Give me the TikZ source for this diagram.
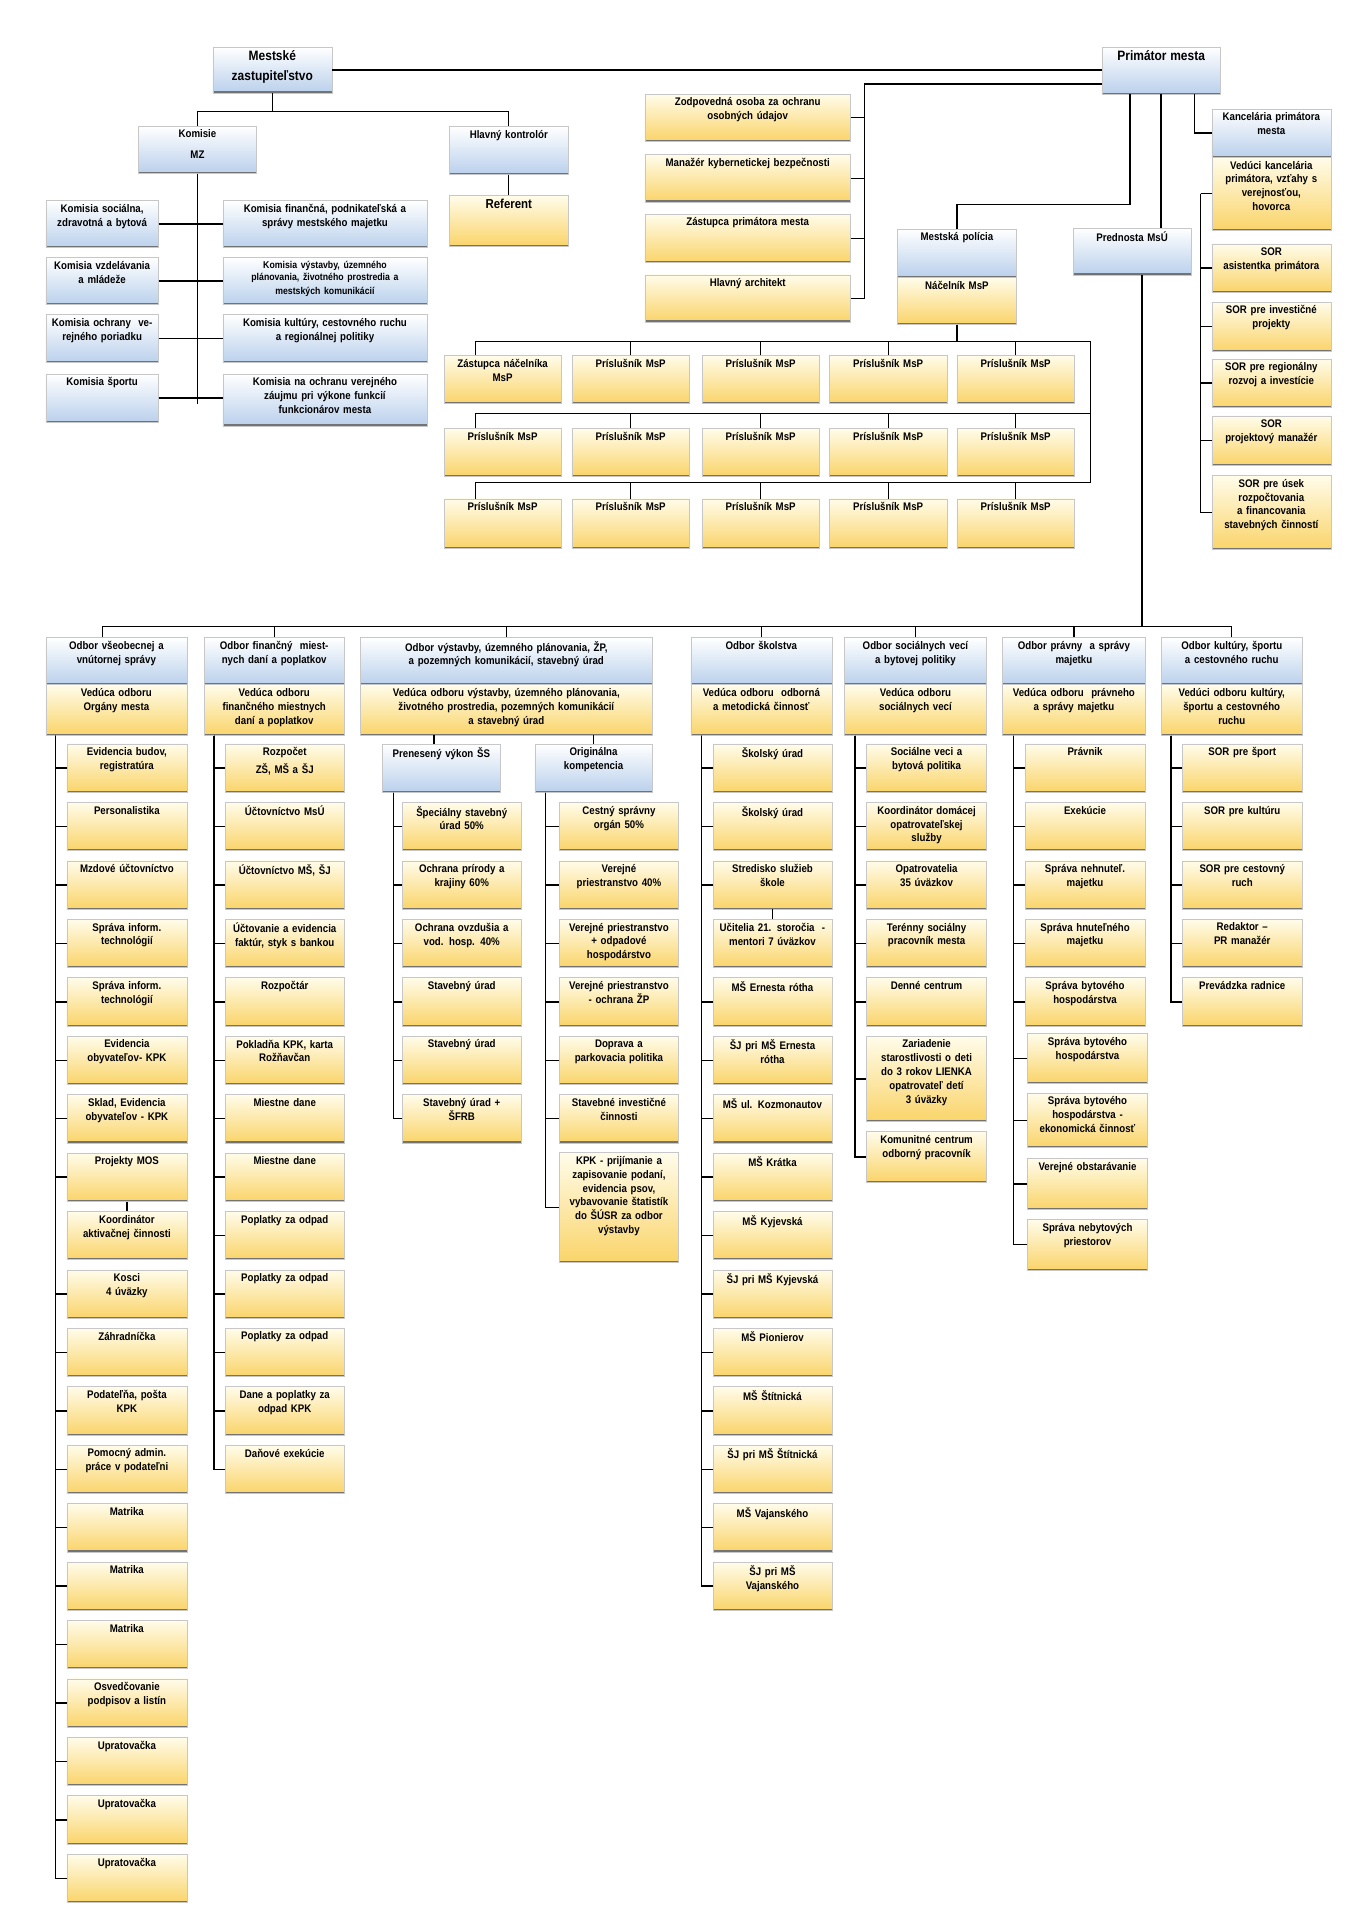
\documentclass[tikz,border=0pt]{standalone}
\usepackage{fontspec}
\setmainfont[FakeStretch=0.88]{Liberation Sans}
\usetikzlibrary{fit}
\definecolor{bluebot}{RGB}{186,208,236}
\definecolor{yeltop}{RGB}{255,252,234}
\definecolor{yelbot}{RGB}{250,212,105}
\tikzset{
 boxbase/.style={inner sep=0pt, draw=black!22, line width=0.4pt,
   path picture={\draw[line width=2.4pt, black!55] (path picture bounding box.south west) -- (path picture bounding box.south east);}},
 bb/.style={boxbase, top color=white, bottom color=bluebot},
 yb/.style={boxbase, top color=yeltop, bottom color=yelbot},
 txt/.style={anchor=north, align=center, inner sep=0pt, font=\fontsize{8.9}{11.2}\selectfont\bfseries},
 con/.style={line width=1.1pt, black}
}
\newcommand\bx[7]{%
 \pgfmathsetmacro\tw{#4-#2-2}%
 \node[#6, fit={(#2,-#3) (#4,-#5)}] (#1) {};
 \node[txt, text width=\tw pt] at ([yshift=-3pt]#1.north) {#7};}
\newcommand\sr[6]{%
 \pgfmathsetmacro\ya{601+47.2*#4}\pgfmathsetmacro\yb{\ya+39}%
 \bx{#1}{#2}{\ya}{#3}{\yb}{#5}{#6}}
\begin{document}
\begin{tikzpicture}[x=1pt,y=1pt]
\useasboundingbox[fill=white] (0,0) rectangle (1100,-1551);
% ---- top
\bx{mz}{172}{38}{268}{75}{bb}{\fontsize{11}{13}\selectfont Mestské\\[5pt]zastupiteľstvo}
\bx{prim}{890}{38}{986}{76}{bb}{\fontsize{11}{13}\selectfont Primátor mesta}
\bx{kom}{112}{102}{207}{140}{bb}{Komisie\\[5pt]MZ}
\bx{hk}{363}{102}{459}{141}{bb}{Hlavný kontrolór}
\bx{ref}{363}{158}{459}{199}{yb}{\fontsize{10.5}{12}\selectfont Referent}
\bx{ks1}{37}{162}{128}{200}{bb}{Komisia sociálna,\\zdravotná a bytová}
\bx{ks2}{37}{208}{128}{246}{bb}{Komisia vzdelávania\\a mládeže}
\bx{ks3}{37}{254}{128}{293}{bb}{Komisia ochrany~ ve-\\rejného poriadku}
\bx{ks4}{37}{302}{128}{341}{bb}{Komisia športu}
\bx{kf1}{180}{162}{345}{200}{bb}{Komisia finančná, podnikateľská a\\správy mestského majetku}
\bx{kf2}{180}{208}{345}{246}{bb}{\fontsize{8}{10}\selectfont Komisia výstavby, územného\\plánovania, životného prostredia a\\mestských komunikácií}
\bx{kf3}{180}{254}{345}{293}{bb}{Komisia kultúry, cestovného ruchu\\a regionálnej politiky}
\bx{kf4}{180}{302}{345}{344}{bb}{Komisia na ochranu verejného\\záujmu pri výkone funkcií\\funkcionárov mesta}
\draw[con] (mz.east) -- (mz.east -| prim.west);
\draw[con] (mz.south) -- ++(0,-15) -| (kom.north);
\draw[con] (mz.south) -- ++(0,-15) -| (hk.north);
\draw[con] (hk.south) -- (ref.north);
\draw[con] (kom.south) -- ++(0,-186);
\foreach \i in {1,...,4} \draw[con] (ks\i.east) -- (ks\i.east -| kf\i.west);
% primator staff
\bx{zo}{521}{76}{687}{114}{yb}{Zodpovedná osoba za ochranu\\osobných údajov}
\bx{ma}{521}{125}{687}{163}{yb}{Manažér kybernetickej bezpečnosti}
\bx{zp}{521}{173}{687}{212}{yb}{Zástupca primátora mesta}
\bx{ha}{521}{222}{687}{260}{yb}{Hlavný architekt}
\draw[con] ([yshift=-30pt]prim.north west) -| ([xshift=11pt]ha.east) -- (ha.east);
\foreach \n in {zo,ma,zp} \draw[con] (\n.east) -- ++(11,0);
\bx{mp}{725}{185}{821}{224}{bb}{Mestská polícia}
\bx{nac}{725}{224}{821}{262}{yb}{Náčelník MsP}
\bx{pr}{867}{184}{962}{222}{bb}{Prednosta MsÚ}
\bx{kan}{979}{88}{1075}{127}{bb}{Kancelária primátora\\mesta}
\bx{ved}{979}{127}{1075}{186}{yb}{Vedúci kancelária\\primátora, vzťahy s\\verejnosťou,\\hovorca}
\bx{so1}{979}{197}{1075}{236}{yb}{SOR\\asistentka primátora}
\bx{so2}{979}{244}{1075}{284}{yb}{SOR pre investičné\\projekty}
\bx{so3}{979}{290}{1075}{329}{yb}{SOR pre regionálny\\rozvoj a investície}
\bx{so4}{979}{336}{1075}{376}{yb}{SOR\\projektový manažér}
\bx{so5}{979}{384}{1075}{444}{yb}{SOR pre úsek\\rozpočtovania\\a financovania\\stavebných činností}
\draw[con] ([xshift=23pt]prim.south west) -- ++(0,-89) -| (mp.north);
\draw[con] ([xshift=48pt]prim.south west) -- ([xshift=48pt]prim.south west |- pr.north);
\draw[con] ([xshift=75pt]prim.south west) |- (kan.west);
\foreach \i in {1,...,5} \draw[con] ([xshift=-9pt]ved.west) |- (so\i.west);
\draw[con] (ved.west) -- ++(-9,0);
% MsP grid
\bx{r1c1}{359}{287}{453}{326}{yb}{Zástupca náčelníka\\MsP}
\foreach \c/\xa/\xb in {2/462/557,3/567/662,4/670/765,5/773/868}
 \bx{r1c\c}{\xa}{287}{\xb}{326}{yb}{Príslušník MsP};
\foreach \r/\ya/\yb in {2/346/385,3/403/443}{
 \bx{r\r c1}{359}{\ya}{453}{\yb}{yb}{Príslušník MsP}
 \bx{r\r c2}{462}{\ya}{557}{\yb}{yb}{Príslušník MsP}
 \bx{r\r c3}{567}{\ya}{662}{\yb}{yb}{Príslušník MsP}
 \bx{r\r c4}{670}{\ya}{765}{\yb}{yb}{Príslušník MsP}
 \bx{r\r c5}{773}{\ya}{868}{\yb}{yb}{Príslušník MsP}
}
\draw[con] (nac.south) -- ++(0,-14);
\draw[con] (384,-276) -- (881,-276) -- (881,-390) -- (384,-390);
\draw[con] (384,-334) -- (881,-334);
\draw[con] ([xshift=-22pt]r1c1.north) -- ++(0,11);
\draw[con] ([xshift=-22pt]r2c1.north) -- ++(0,12);
\draw[con] ([xshift=-22pt]r3c1.north) -- ++(0,13);
\foreach \c in {2,...,5}{
 \draw[con] (r1c\c.north) -- ++(0,11);
 \draw[con] (r2c\c.north) -- ++(0,12);
 \draw[con] (r3c\c.north) -- ++(0,13);}
% departments
\draw[con] ([xshift=8pt]pr.south) -- ++(0,-284);
\draw[con] (83,-506) -- (995,-506);
\bx{d1}{37}{515}{151}{553}{bb}{Odbor všeobecnej a\\vnútornej správy}
\bx{d1y}{37}{553}{151}{594}{yb}{Vedúca odboru\\Orgány mesta}
\bx{d2}{165}{515}{278}{553}{bb}{Odbor finančný~ miest-\\nych daní a poplatkov}
\bx{d2y}{165}{553}{278}{594}{yb}{Vedúca odboru\\finančného miestnych\\daní a poplatkov}
\bx{d3}{291}{515}{527}{553}{bb}{Odbor výstavby, územného plánovania, ŽP,\\a pozemných komunikácií, stavebný úrad}
\bx{d3y}{291}{553}{527}{594}{yb}{Vedúca odboru výstavby, územného plánovania,\\životného prostredia, pozemných komunikácií\\a stavebný úrad}
\bx{d4}{558}{515}{672}{553}{bb}{Odbor školstva}
\bx{d4y}{558}{553}{672}{594}{yb}{Vedúca odboru~ odborná\\a metodická činnosť}
\bx{d5}{682}{515}{797}{553}{bb}{Odbor sociálnych vecí\\a bytovej politiky}
\bx{d5y}{682}{553}{797}{594}{yb}{Vedúca odboru\\sociálnych vecí}
\bx{d6}{810}{515}{925}{553}{bb}{Odbor právny~ a správy\\majetku}
\bx{d6y}{810}{553}{925}{594}{yb}{Vedúca odboru~ právneho\\a správy majetku}
\bx{d7}{938}{515}{1052}{553}{bb}{Odbor kultúry, športu\\a cestovného ruchu}
\bx{d7y}{938}{553}{1052}{594}{yb}{Vedúci odboru kultúry,\\športu a cestovného\\ruchu}
\draw[con] ([xshift=-11pt]d1.north) -- ++(0,9);
\foreach \d in {2,...,7} \draw[con] (d\d.north) -- ++(0,9);
% col1
\sr{a0}{54}{151}{0}{yb}{Evidencia budov,\\registratúra}
\sr{a1}{54}{151}{1}{yb}{Personalistika}
\sr{a2}{54}{151}{2}{yb}{Mzdové účtovníctvo}
\sr{a3}{54}{151}{3}{yb}{Správa inform.\\technológií}
\sr{a4}{54}{151}{4}{yb}{Správa inform.\\technológií}
\sr{a5}{54}{151}{5}{yb}{Evidencia\\obyvateľov- KPK}
\sr{a6}{54}{151}{6}{yb}{Sklad, Evidencia\\obyvateľov - KPK}
\sr{a7}{54}{151}{7}{yb}{Projekty MOS}
\sr{a8}{54}{151}{8}{yb}{Koordinátor\\aktivačnej činnosti}
\sr{a9}{54}{151}{9}{yb}{Kosci\\4 úväzky}
\sr{a10}{54}{151}{10}{yb}{Záhradníčka}
\sr{a11}{54}{151}{11}{yb}{Podateľňa, pošta\\KPK}
\sr{a12}{54}{151}{12}{yb}{Pomocný admin.\\práce v podateľni}
\sr{a13}{54}{151}{13}{yb}{Matrika}
\sr{a14}{54}{151}{14}{yb}{Matrika}
\sr{a15}{54}{151}{15}{yb}{Matrika}
\sr{a16}{54}{151}{16}{yb}{Osvedčovanie\\podpisov a listín}
\sr{a17}{54}{151}{17}{yb}{Upratovačka}
\sr{a18}{54}{151}{18}{yb}{Upratovačka}
\sr{a19}{54}{151}{19}{yb}{Upratovačka}
\foreach \i in {0,...,7,9,10,...,19} \draw[con] ([xshift=8pt]d1y.south west) |- (a\i.west);
\draw[con] (a7.south) -- (a8.north);
% col2
\sr{b0}{182}{278}{0}{yb}{Rozpočet\\[3pt]ZŠ, MŠ a ŠJ}
\sr{b1}{182}{278}{1}{yb}{Účtovníctvo MsÚ}
\sr{b2}{182}{278}{2}{yb}{Účtovníctvo MŠ, ŠJ}
\sr{b3}{182}{278}{3}{yb}{Účtovanie a evidencia\\faktúr, styk s bankou}
\sr{b4}{182}{278}{4}{yb}{Rozpočtár}
\sr{b5}{182}{278}{5}{yb}{Pokladňa KPK, karta\\Rožňavčan}
\sr{b6}{182}{278}{6}{yb}{Miestne dane}
\sr{b7}{182}{278}{7}{yb}{Miestne dane}
\sr{b8}{182}{278}{8}{yb}{Poplatky za odpad}
\sr{b9}{182}{278}{9}{yb}{Poplatky za odpad}
\sr{b10}{182}{278}{10}{yb}{Poplatky za odpad}
\sr{b11}{182}{278}{11}{yb}{Dane a poplatky za\\odpad KPK}
\sr{b12}{182}{278}{12}{yb}{Daňové exekúcie}
\foreach \i in {0,...,12} \draw[con] ([xshift=8pt]d2y.south west) |- (b\i.west);
% col3
\bx{pren}{309}{601}{404}{640}{bb}{Prenesený výkon ŠS}
\bx{orig}{432}{601}{527}{640}{bb}{Originálna\\kompetencia}
\draw[con] ([xshift=-6pt]pren.north) -- ++(0,7);
\draw[con] (orig.north) -- ++(0,7);
\sr{c1}{325}{421}{1}{yb}{Špeciálny stavebný\\úrad 50\%}
\sr{c2}{325}{421}{2}{yb}{Ochrana prírody a\\krajiny 60\%}
\sr{c3}{325}{421}{3}{yb}{Ochrana ovzdušia a\\vod. hosp. 40\%}
\sr{c4}{325}{421}{4}{yb}{Stavebný úrad}
\sr{c5}{325}{421}{5}{yb}{Stavebný úrad}
\sr{c6}{325}{421}{6}{yb}{Stavebný úrad +\\ŠFRB}
\foreach \i in {1,...,6} \draw[con] ([xshift=9pt]pren.south west) |- (c\i.west);
\sr{e1}{452}{548}{1}{yb}{Cestný správny\\orgán 50\%}
\sr{e2}{452}{548}{2}{yb}{Verejné\\priestranstvo 40\%}
\sr{e3}{452}{548}{3}{yb}{Verejné priestranstvo\\+ odpadové\\hospodárstvo}
\sr{e4}{452}{548}{4}{yb}{Verejné priestranstvo\\- ochrana ŽP}
\sr{e5}{452}{548}{5}{yb}{Doprava a\\parkovacia politika}
\sr{e6}{452}{548}{6}{yb}{Stavebné investičné\\činnosti}
\bx{e7}{452}{931}{548}{1020}{yb}{KPK - prijímanie a\\zapisovanie podaní,\\evidencia psov,\\vybavovanie štatistík\\do ŠÚSR za odbor\\výstavby}
\foreach \i in {1,...,7} \draw[con] ([xshift=9pt]orig.south west) |- (e\i.west);
% col4
\sr{f0}{576}{672}{0}{yb}{Školský úrad}
\sr{f1}{576}{672}{1}{yb}{Školský úrad}
\sr{f2}{576}{672}{2}{yb}{Stredisko služieb\\škole}
\sr{f3}{576}{672}{3}{yb}{Učitelia 21. storočia~ -\\mentori 7 úväzkov}
\sr{f4}{576}{672}{4}{yb}{MŠ Ernesta rótha}
\sr{f5}{576}{672}{5}{yb}{ŠJ pri MŠ Ernesta\\rótha}
\sr{f6}{576}{672}{6}{yb}{MŠ ul. Kozmonautov}
\sr{f7}{576}{672}{7}{yb}{MŠ Krátka}
\sr{f8}{576}{672}{8}{yb}{MŠ Kyjevská}
\sr{f9}{576}{672}{9}{yb}{ŠJ pri MŠ Kyjevská}
\sr{f10}{576}{672}{10}{yb}{MŠ Pionierov}
\sr{f11}{576}{672}{11}{yb}{MŠ Štítnická}
\sr{f12}{576}{672}{12}{yb}{ŠJ pri MŠ Štítnická}
\sr{f13}{576}{672}{13}{yb}{MŠ Vajanského}
\sr{f14}{576}{672}{14}{yb}{ŠJ pri MŠ\\Vajanského}
\foreach \i in {0,1,2,4,5,...,14} \draw[con] ([xshift=9pt]d4y.south west) |- (f\i.west);
\draw[con] (f2.south) -- (f3.north);
% col5
\sr{g0}{700}{797}{0}{yb}{Sociálne veci a\\bytová politika}
\sr{g1}{700}{797}{1}{yb}{Koordinátor domácej\\opatrovateľskej\\služby}
\sr{g2}{700}{797}{2}{yb}{Opatrovatelia\\35 úväzkov}
\sr{g3}{700}{797}{3}{yb}{Terénny sociálny\\pracovník mesta}
\sr{g4}{700}{797}{4}{yb}{Denné centrum}
\bx{g5}{700}{837}{797}{906}{yb}{Zariadenie\\starostlivosti o deti\\do 3 rokov LIENKA\\opatrovateľ detí\\3 úväzky}
\bx{g6}{700}{914}{797}{955}{yb}{Komunitné centrum\\odborný pracovník}
\foreach \i in {0,...,6} \draw[con] ([xshift=9pt]d5y.south west) |- (g\i.west);
% col6
\sr{h0}{828}{925}{0}{yb}{Právnik}
\sr{h1}{828}{925}{1}{yb}{Exekúcie}
\sr{h2}{828}{925}{2}{yb}{Správa nehnuteľ.\\majetku}
\sr{h3}{828}{925}{3}{yb}{Správa hnuteľného\\majetku}
\sr{h4}{828}{925}{4}{yb}{Správa bytového\\hospodárstva}
\bx{h5}{830}{835}{927}{875}{yb}{Správa bytového\\hospodárstva}
\bx{h6}{830}{883}{927}{927}{yb}{Správa bytového\\hospodárstva -\\ekonomická činnosť}
\bx{h7}{830}{936}{927}{977}{yb}{Verejné obstarávanie}
\bx{h8}{830}{985}{927}{1026}{yb}{Správa nebytových\\priestorov}
\foreach \i in {0,...,8} \draw[con] ([xshift=9pt]d6y.south west) |- (h\i.west);
% col7
\sr{k0}{955}{1052}{0}{yb}{SOR pre šport}
\sr{k1}{955}{1052}{1}{yb}{SOR pre kultúru}
\sr{k2}{955}{1052}{2}{yb}{SOR pre cestovný\\ruch}
\sr{k3}{955}{1052}{3}{yb}{Redaktor –\\PR manažér}
\sr{k4}{955}{1052}{4}{yb}{Prevádzka radnice}
\foreach \i in {0,...,4} \draw[con] ([xshift=8pt]d7y.south west) |- (k\i.west);
\end{tikzpicture}
\end{document}
